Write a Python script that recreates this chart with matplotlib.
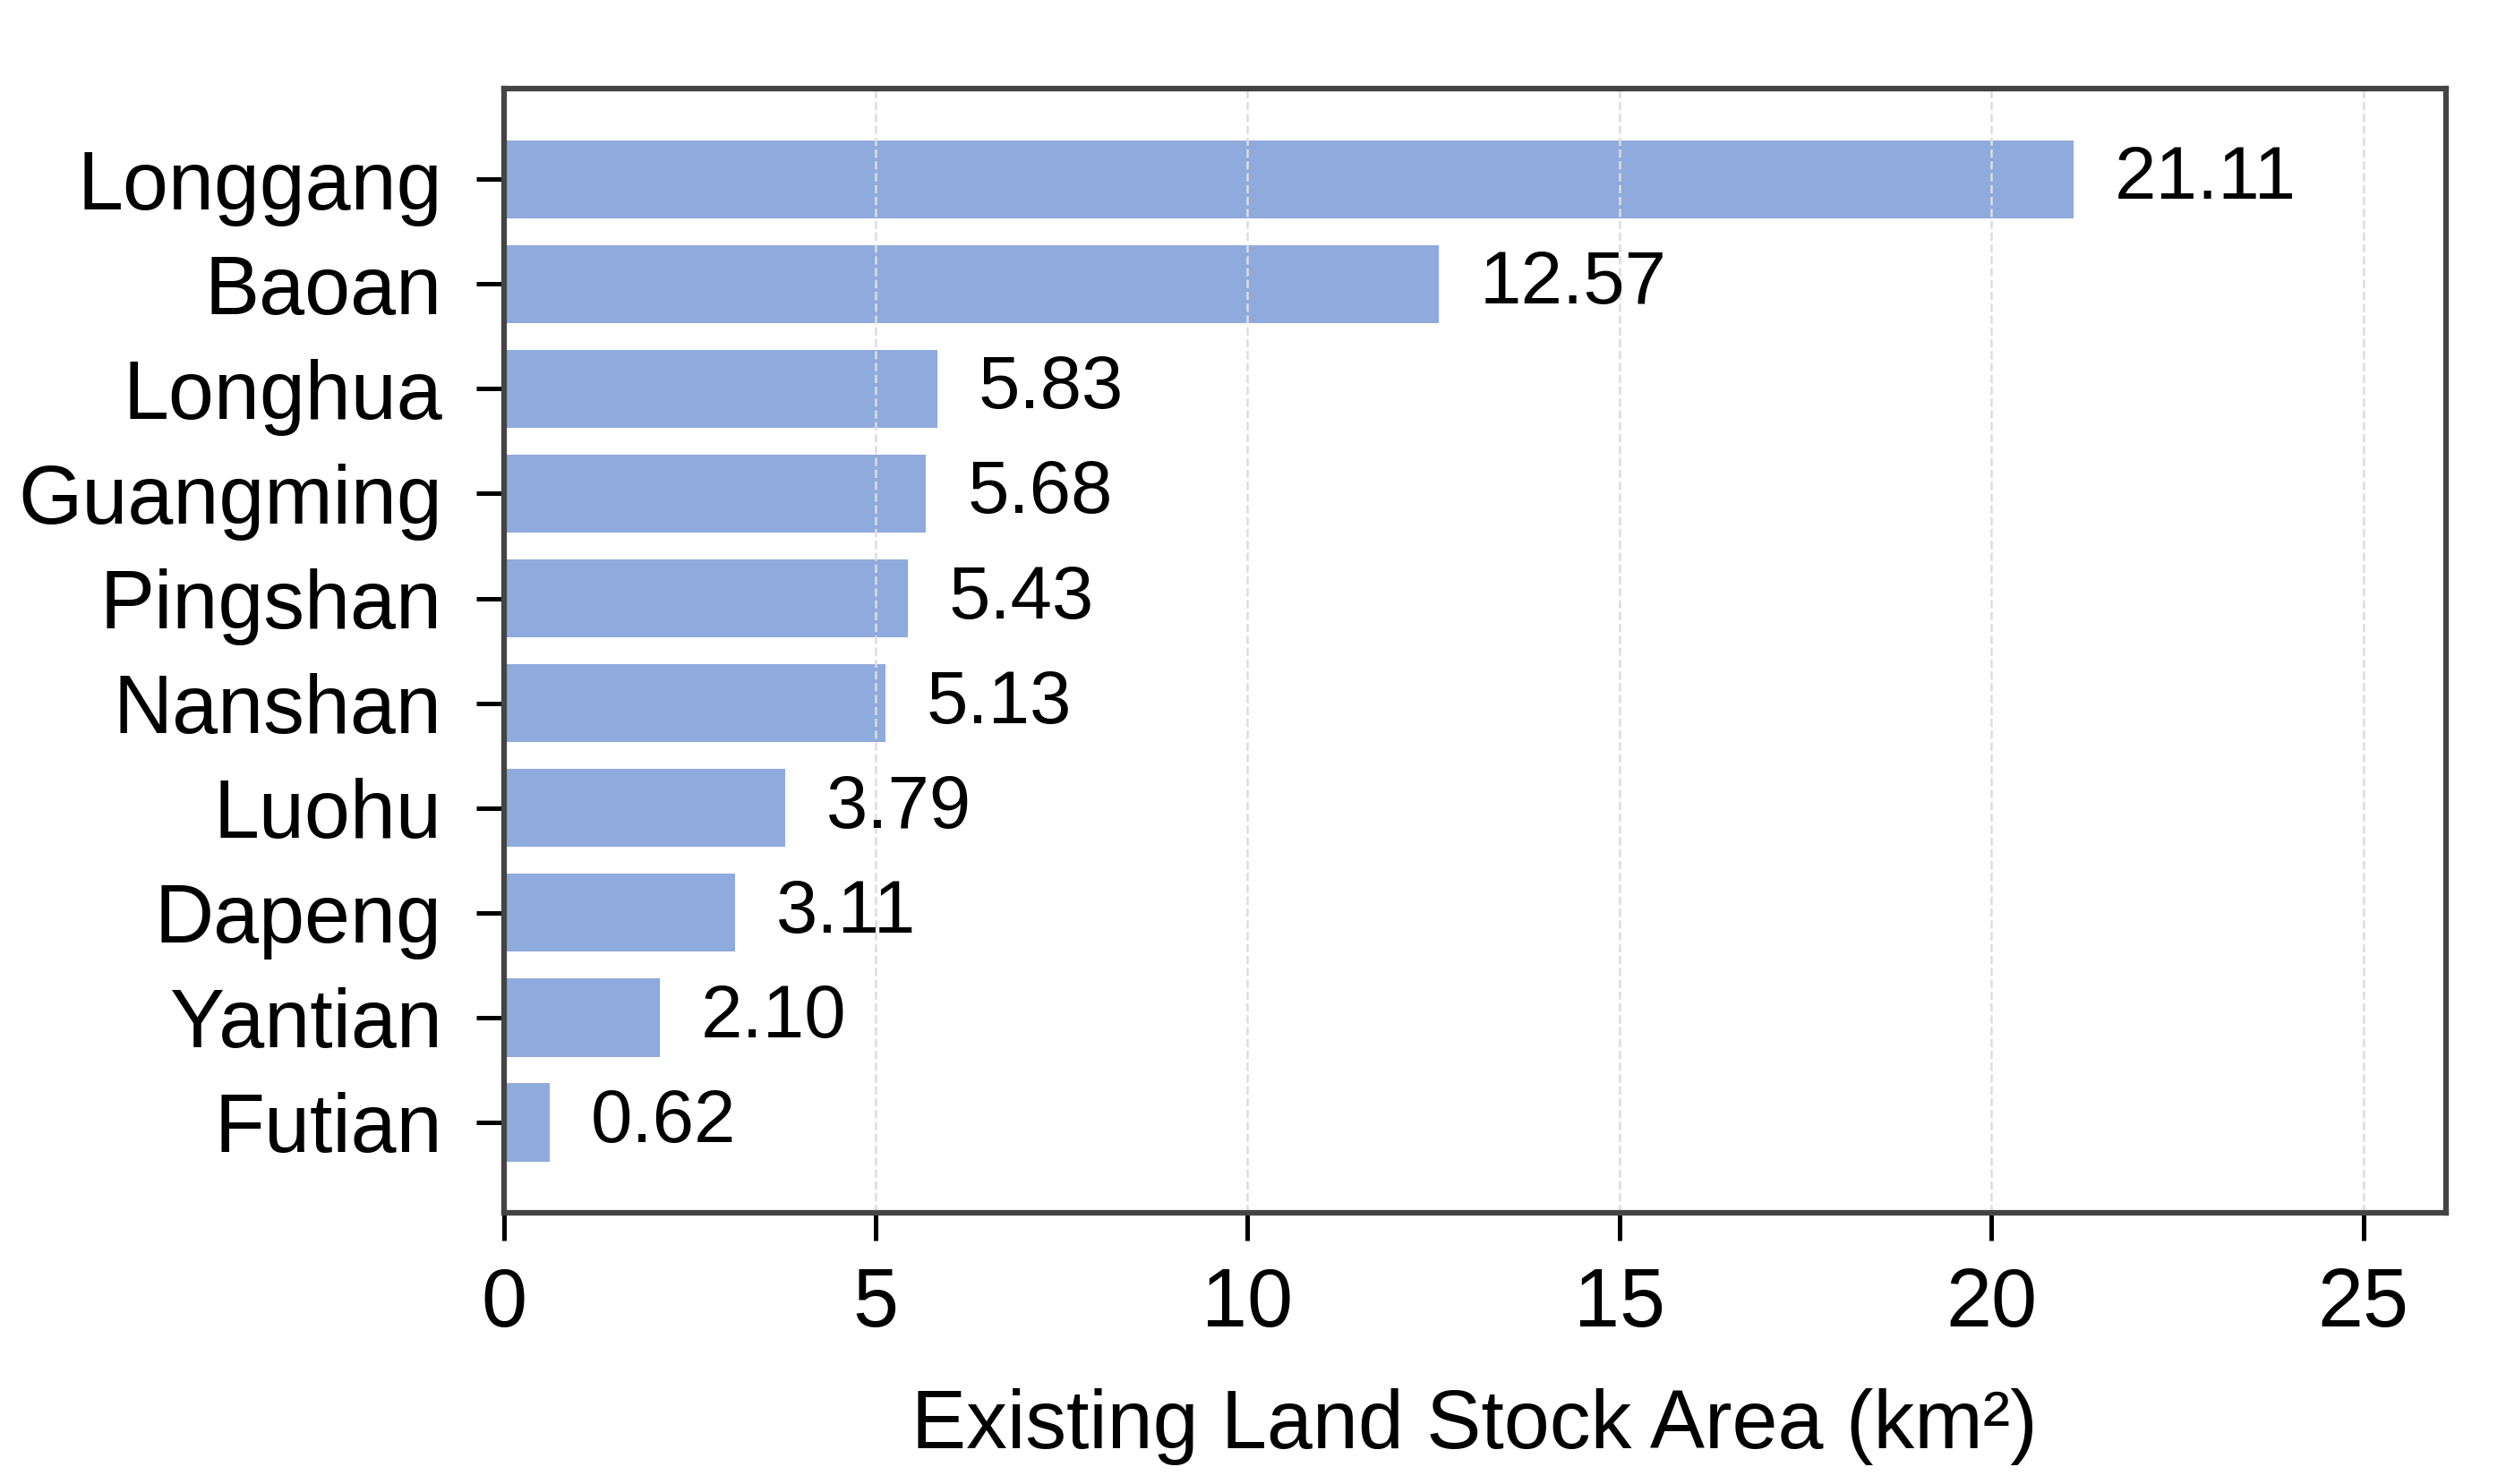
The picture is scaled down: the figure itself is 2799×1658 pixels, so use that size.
import matplotlib.pyplot as plt

plt.rcParams['font.family'] = ['Liberation Sans', 'Arial', 'DejaVu Sans']

districts = ['Longgang', 'Baoan', 'Longhua', 'Guangming', 'Pingshan',
             'Nanshan', 'Luohu', 'Dapeng', 'Yantian', 'Futian']
areas = [21.11, 12.57, 5.83, 5.68, 5.43, 5.13, 3.79, 3.11, 2.10, 0.62]
x_ticks = [0, 5, 10, 15, 20, 25]

bar_color = '#8FAADC'
spine_color = '#444444'

fig, ax = plt.subplots(figsize=(2799 / 300, 1658 / 300), dpi=300)
fig.subplots_adjust(left=0.201, right=0.976, top=0.940, bottom=0.183)

ypos = list(range(len(districts)))
ax.barh(ypos, areas, height=0.75, color=bar_color, zorder=2)
ax.invert_yaxis()

# value labels to the right of each bar
for y, v in zip(ypos, areas):
    ax.text(v + 0.55, y, f'{v:.2f}', va='center', ha='left', fontsize=20, zorder=4)

ax.set_yticks(ypos)
ax.set_yticklabels(districts, fontsize=22)
ax.set_xticks(x_ticks)
ax.set_xticklabels([str(t) for t in x_ticks], fontsize=22)
ax.set_xlim(0, max(areas) + 5)
ax.set_xlabel('Existing Land Stock Area (km²)', fontsize=22, labelpad=12)

ax.grid(axis='x', linestyle='--', linewidth=0.6, color='#dddddd', zorder=3)
ax.set_axisbelow(False)

for sp in ax.spines.values():
    sp.set_color(spine_color)
    sp.set_linewidth(1.5)
    sp.set_zorder(5)

ax.tick_params(axis='both', direction='out', length=7.5, width=1.2, color='black')
ax.tick_params(axis='y', pad=9)
ax.tick_params(axis='x', pad=7)

plt.savefig('out.png', dpi=300)
